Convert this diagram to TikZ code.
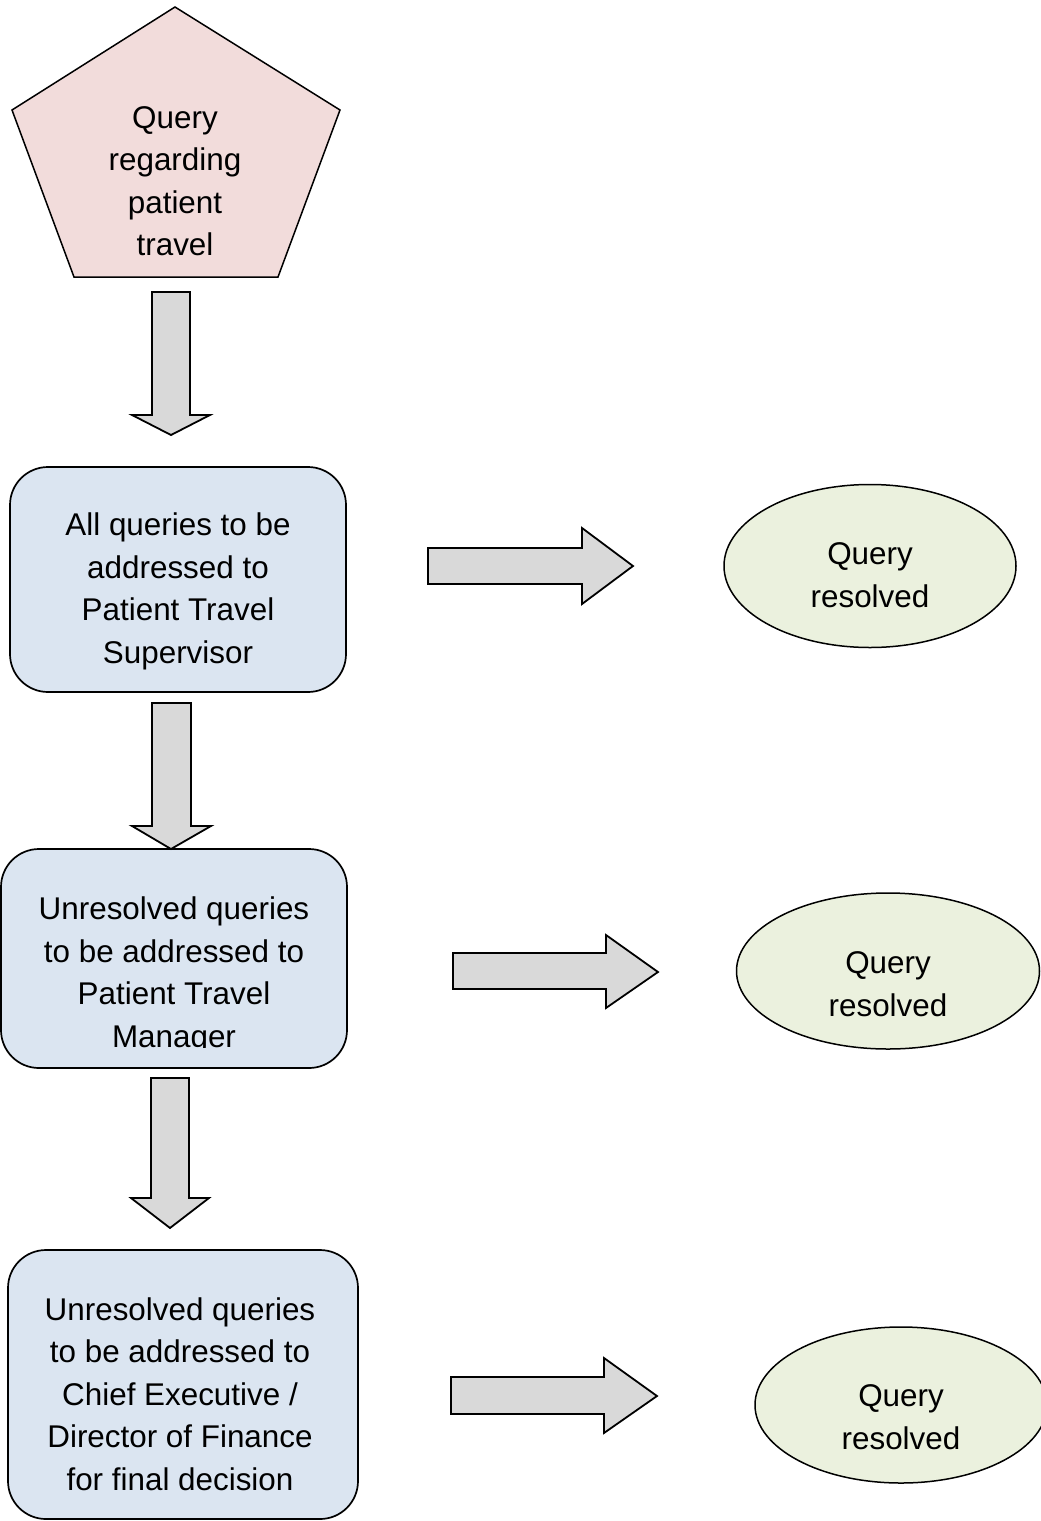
\documentclass[tikz,border=0pt]{standalone}
\usepackage{fontspec}
\setmainfont{Liberation Sans}
\usetikzlibrary{shapes.geometric}
\definecolor{pinkfill}{HTML}{F2DCDB}
\definecolor{bluefill}{HTML}{DBE5F1}
\definecolor{greenfill}{HTML}{EBF1DE}
\definecolor{arrowfill}{HTML}{D9D9D9}
\begin{document}
\begin{tikzpicture}[x=1pt,y=-1pt,
  txt/.style={align=center, font=\fontsize{31.4}{42.5}\selectfont, inner sep=0pt},
  blockarrow/.style={draw, fill=arrowfill, line width=1.8pt, line join=miter},
  box/.style={draw, fill=bluefill, rounded corners=38pt, line width=1.7pt, inner sep=0pt},
  oval/.style={draw, ellipse, fill=greenfill, line width=1.5pt, inner sep=0pt}]
\useasboundingbox (0,0) rectangle (1041,1521);
\clip (0,0) rectangle (1041,1521);
% start pentagon
\draw[fill=pinkfill, line width=1.5pt] (175,7) -- (340,110) -- (278,277) -- (74,277) -- (12,110) -- cycle;
\node[txt] (q0) at (175,181) {Query\\regarding\\patient\\travel};
% boxes
\node[box, minimum width=336pt, minimum height=225pt] (b1) at (178,579.5) {};
\node[txt] (t1) at (178,591.5) {All queries to be\\addressed to\\Patient Travel\\Supervisor};
\node[box, minimum width=346pt, minimum height=219pt] (b2) at (174,958.5) {};
\begin{scope}
\clip (0,849) rectangle (347,1047);
\node[txt] (t2) at (174,975.5) {Unresolved queries\\to be addressed to\\Patient Travel\\Manager};
\end{scope}
\node[box, minimum width=350pt, minimum height=269pt] (b3) at (183,1384.5) {};
\node[txt] (t3) at (180,1394) {Unresolved queries\\to be addressed to\\Chief Executive /\\Director of Finance\\for final decision};
% ovals
\node[oval, minimum width=292pt, minimum height=163pt] (e1) at (870,566) {};
\node[txt] (r1) at (870,575) {Query\\resolved};
\node[oval, minimum width=303pt, minimum height=156pt] (e2) at (888,971) {};
\node[txt] (r2) at (888,984) {Query\\resolved};
\node[oval, minimum width=292pt, minimum height=156pt] (e3) at (901,1405) {};
\node[txt] (r3) at (901,1417) {Query\\resolved};
% down block arrows
\draw[blockarrow] (152,292) -- (190,292) -- (190,415) -- (210,415) -- (171,435) -- (132,415) -- (152,415) -- cycle;
\draw[blockarrow] (152,703) -- (191,703) -- (191,826) -- (211,826) -- (171,849) -- (132,826) -- (152,826) -- cycle;
\draw[blockarrow] (151,1078) -- (189,1078) -- (189,1198) -- (209,1198) -- (170,1228) -- (131,1198) -- (151,1198) -- cycle;
% right block arrows
\draw[blockarrow] (428,548) -- (582,548) -- (582,528) -- (633,566) -- (582,604) -- (582,584) -- (428,584) -- cycle;
\draw[blockarrow] (453,953) -- (606,953) -- (606,935) -- (658,972) -- (606,1008) -- (606,989) -- (453,989) -- cycle;
\draw[blockarrow] (451,1377) -- (604,1377) -- (604,1358) -- (657,1396) -- (604,1433) -- (604,1414) -- (451,1414) -- cycle;
\end{tikzpicture}
\end{document}
